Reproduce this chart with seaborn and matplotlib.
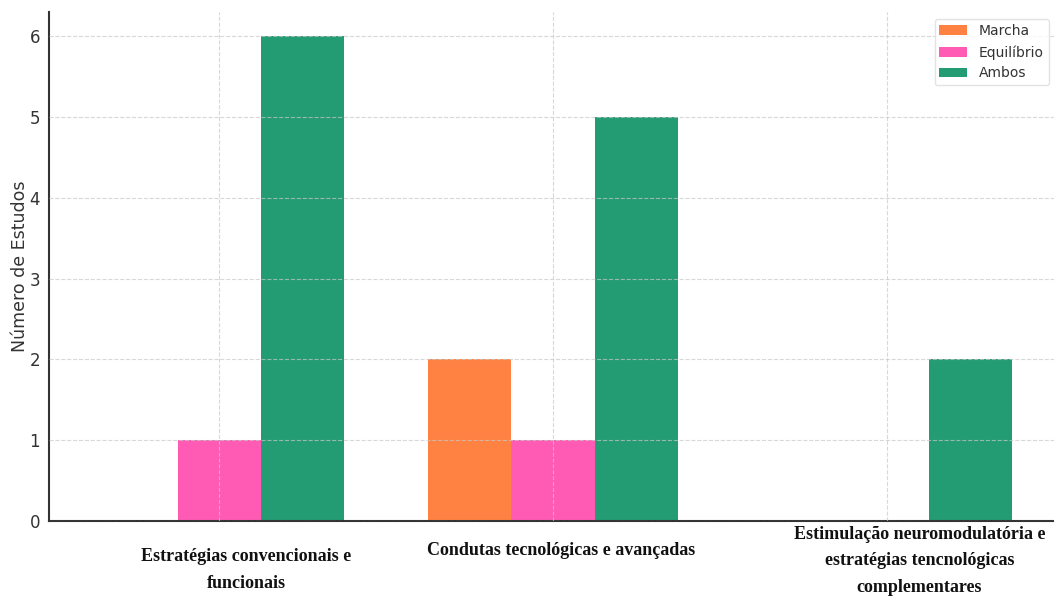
import matplotlib
matplotlib.use("Agg")
import matplotlib.pyplot as plt
import seaborn as sns
import pandas as pd

# Categories of intervention and the number of studies per outcome
categories = [
    "Estratégias convencionais e funcionais",
    "Condutas tecnológicas e avançadas",
    "Estimulação neuromodulatória e estratégias tencnológicas complementares",
]
category_labels = [
    "Estratégias convencionais e\nfuncionais",
    "Condutas tecnológicas e avançadas",
    "Estimulação neuromodulatória e\nestratégias tencnológicas\ncomplementares",
]
outcomes = ["Marcha", "Equilíbrio", "Ambos"]
marcha = [0, 2, 0]
equilibrio = [1, 1, 0]
ambos = [6, 5, 2]
colors = ["#FF8242", "#FF5BB4", "#249C73"]

rows = []
for series_name, values in zip(outcomes, [marcha, equilibrio, ambos]):
    for cat, v in zip(categories, values):
        rows.append({"Categoria": cat, "Desfecho": series_name, "Estudos": v})
df = pd.DataFrame(rows)

sns.set_style("white")
plt.rcParams["font.family"] = ["DejaVu Sans"]

fig = plt.figure(figsize=(10.54, 6.05), dpi=100)
ax = fig.add_axes([49 / 1054, 84 / 605, 1 - 49 / 1054, 509 / 605])

sns.barplot(
    data=df, x="Categoria", y="Estudos", hue="Desfecho",
    order=categories, hue_order=outcomes, palette=colors,
    width=0.75, saturation=1, linewidth=0, ax=ax, legend=True,
)

ax.set_xlim(-0.51, 2.5)
ax.set_ylim(0, 6.3)
ax.set_yticks(range(0, 7))
ax.tick_params(axis="y", labelsize=12, labelcolor="#333333", length=3, color="#333333")
ax.tick_params(axis="x", length=3, color="#333333")
ax.set_xticks(range(len(categories)))
ax.set_xticklabels([""] * len(categories))
ax.set_xlabel("")
ax.set_ylabel("Número de Estudos", fontsize=12.5, color="#333333", labelpad=0)

ax.set_axisbelow(False)
ax.grid(True, axis="both", linestyle="--", color="#c8c8c8", linewidth=0.8, alpha=0.7)

for side in ("top", "right"):
    ax.spines[side].set_visible(False)
for side in ("left", "bottom"):
    ax.spines[side].set_color("#333333")
    ax.spines[side].set_linewidth(1.5)

# Category names below the axis, in bold serif
label_pos = [(0.08, -0.054), (0.025, -0.041), (0.097, -0.009)]
for (dx, y), text, i in zip(label_pos, category_labels, range(len(categories))):
    ax.text(i + dx, y, text, transform=ax.get_xaxis_transform(),
            ha="center", va="top", fontsize=13, fontweight="bold",
            family="Liberation Serif", color="#111111", linespacing=1.75)

leg = ax.legend(loc="upper right", fontsize=10, frameon=True, title=None,
                bbox_to_anchor=(0.999, 0.994), handlelength=2.0, borderpad=0.35,
                handletextpad=0.85, borderaxespad=0.3, labelspacing=0.5)
leg.get_frame().set_edgecolor("#dddddd")
for t in leg.get_texts():
    t.set_color("#333333")

fig.savefig("out.png", dpi=100)
